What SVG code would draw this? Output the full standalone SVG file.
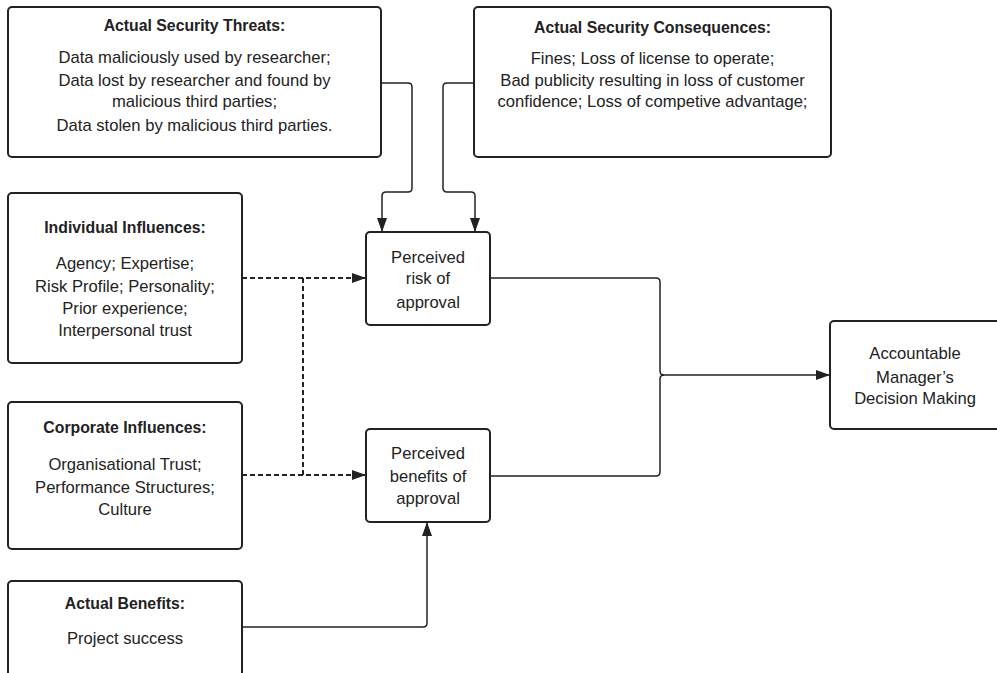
<svg xmlns="http://www.w3.org/2000/svg" width="997" height="673" viewBox="0 0 997 673">
<defs>
<marker id="arr" markerWidth="14" markerHeight="10" refX="13" refY="5" orient="auto" markerUnits="userSpaceOnUse">
<path d="M0,0 L14,5 L0,10 Z" fill="#222"/>
</marker>
<style>
.box{fill:#fff;stroke:#222;stroke-width:2}
.t{font-family:"Liberation Sans",Arial,sans-serif;font-size:16.6px;fill:#222;text-anchor:middle}
.b{font-weight:bold;font-size:15.8px}
.c{fill:none;stroke:#222;stroke-width:1.5}
.d{fill:none;stroke:#222;stroke-width:2;stroke-dasharray:5 3}
</style>
</defs>
<rect width="997" height="673" fill="#fff"/>
<g id="connectors">
<path class="c" d="M381,83 H408 Q412,83 412,87 V188 Q412,192 408,192 H386 Q382,192 382,196 V231" marker-end="url(#arr)"/>
<path class="c" d="M474,83 H447 Q443,83 443,87 V188 Q443,192 447,192 H471 Q475,192 475,196 V231" marker-end="url(#arr)"/>
<path class="d" d="M242,278 H365" marker-end="url(#arr)"/>
<path class="d" d="M303,278 V475"/>
<path class="d" d="M242,475 H365" marker-end="url(#arr)"/>
<path class="c" d="M242,627 H423 Q427,627 427,623 V523" marker-end="url(#arr)"/>
<path class="c" d="M490,278 H656 Q660,278 660,282 V371 Q660,375 664,375"/>
<path class="c" d="M490,476 H656 Q660,476 660,472 V379 Q660,375 664,375"/>
<path class="c" d="M664,375 H829" marker-end="url(#arr)"/>
</g>
<g id="threats">
<rect class="box" x="8" y="7" width="373" height="150" rx="4"/>
<text class="t b" x="194.5" y="31">Actual Security Threats:</text>
<text class="t" x="194.5" y="63">Data maliciously used by researcher;</text>
<text class="t" x="194.5" y="86">Data lost by researcher and found by</text>
<text class="t" x="194.5" y="107">malicious third parties;</text>
<text class="t" x="194.5" y="131">Data stolen by malicious third parties.</text>
</g>
<g id="consequences">
<rect class="box" x="474" y="7" width="357" height="150" rx="4"/>
<text class="t b" x="652.5" y="33">Actual Security Consequences:</text>
<text class="t" x="652.5" y="64">Fines; Loss of license to operate;</text>
<text class="t" x="652.5" y="86">Bad publicity resulting in loss of customer</text>
<text class="t" x="652.5" y="107">confidence; Loss of competive advantage;</text>
</g>
<g id="individual">
<rect class="box" x="8" y="193" width="234" height="170" rx="4"/>
<text class="t b" x="125" y="233">Individual Influences:</text>
<text class="t" x="125" y="269">Agency; Expertise;</text>
<text class="t" x="125" y="292">Risk Profile; Personality;</text>
<text class="t" x="125" y="314">Prior experience;</text>
<text class="t" x="125" y="336">Interpersonal trust</text>
</g>
<g id="corporate">
<rect class="box" x="8" y="402" width="234" height="147" rx="4"/>
<text class="t b" x="125" y="433">Corporate Influences:</text>
<text class="t" x="125" y="470">Organisational Trust;</text>
<text class="t" x="125" y="493">Performance Structures;</text>
<text class="t" x="125" y="515">Culture</text>
</g>
<g id="benefits">
<rect class="box" x="8" y="581" width="234" height="110" rx="4"/>
<text class="t b" x="125" y="609">Actual Benefits:</text>
<text class="t" x="125" y="644">Project success</text>
</g>
<g id="risk">
<rect class="box" x="366" y="232" width="124" height="93" rx="4"/>
<text class="t" x="428" y="263">Perceived</text>
<text class="t" x="428" y="284">risk of</text>
<text class="t" x="428" y="308">approval</text>
</g>
<g id="perceived-benefits">
<rect class="box" x="366" y="429" width="124" height="93" rx="4"/>
<text class="t" x="428" y="459">Perceived</text>
<text class="t" x="428" y="482">benefits of</text>
<text class="t" x="428" y="504">approval</text>
</g>
<g id="decision">
<rect class="box" x="830" y="321" width="180" height="108" rx="4"/>
<text class="t" x="915" y="359">Accountable</text>
<text class="t" x="915" y="383">Manager’s</text>
<text class="t" x="915" y="404">Decision Making</text>
</g>
</svg>
